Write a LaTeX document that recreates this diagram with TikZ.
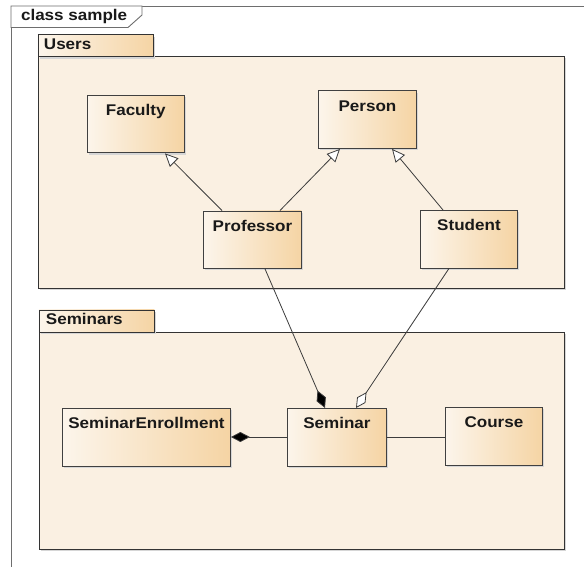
\documentclass[tikz,border=0pt]{standalone}
\usepackage{fontspec}
\setmainfont[FakeStretch=1.1]{Liberation Sans}
\usetikzlibrary{arrows.meta,shadows,calc}
\definecolor{pkgfill}{RGB}{250,240,226}
\definecolor{clsleft}{RGB}{252,245,235}
\definecolor{clsright}{RGB}{245,212,164}
\definecolor{edgecol}{RGB}{60,60,60}
\definecolor{framecol}{RGB}{110,110,110}
\tikzset{
  txt/.style={font=\fontsize{15.5}{18}\selectfont\bfseries, text=black!90},
  shade/.style={drop shadow={shadow xshift=1.6pt, shadow yshift=-1.6pt, fill=black!16, opacity=1}},
  pkgbody/.style={draw=black!80, line width=0.9pt, fill=pkgfill, shade, anchor=north west, inner sep=0pt},
  pkgtab/.style={txt, draw=black!80, line width=0.9pt, left color=clsleft, right color=clsright, shade,
    anchor=north west, inner sep=0pt, text width=#1, align=left, text height=15pt, text depth=7pt},
  cls/.style={txt, draw=black!75, line width=0.9pt, left color=clsleft, right color=clsright, shade,
    anchor=north west, inner sep=0pt, minimum width=#1, minimum height=57.5pt,
    text height=20.5pt, text depth=37pt},
  conn/.style={draw=edgecol, line width=0.8pt},
  gen/.style={conn, -{Triangle[length=13pt, width=12pt, fill=white]}},
  comp/.style={conn, -{Diamond[length=19pt, width=10pt, fill=black]}},
  aggr/.style={conn, -{Diamond[length=19pt, width=10pt, fill=white]}},
}
\begin{document}
\begin{tikzpicture}[x=1pt, y=-1pt]
  \useasboundingbox (0,0) rectangle (584,567);
  \fill[white] (0,0) rectangle (584,567);

  % diagram frame and its name tag
  \draw[framecol, line width=0.9pt] (11,567) -- (11,6) -- (584,6);
  \draw[framecol, line width=0.9pt, fill=white]
    (11,6) -- (142,6) -- (142,15) -- (128,27.5) -- (11,27.5) -- cycle;
  \node[txt, anchor=base west] (frametitle) at (17.5,20.5) {class sample};

  % packages
  \node[pkgbody, minimum width=526.5pt, minimum height=232pt] (users) at (37.5,56) {};
  \node[pkgtab=115.5pt] (userstab) at (37.5,34.5) {\hspace*{6pt}Users};
  \node[pkgbody, minimum width=525.5pt, minimum height=217.5pt] (seminars) at (38.5,331.5) {};
  \node[pkgtab=115.5pt] (seminarstab) at (38.5,309.5) {\hspace*{7pt}Seminars};

  % classes
  \node[cls=97.5pt] (faculty) at (86.5,95) {Faculty};
  \node[cls=98pt] (person) at (318,90.5) {Person};
  \node[cls=98pt] (professor) at (203,210.5) {Professor};
  \node[cls=97pt] (student) at (420,210) {Student};
  \node[cls=168pt] (enroll) at (62,408) {SeminarEnrollment};
  \node[cls=99pt] (seminar) at (287,408) {Seminar};
  \node[cls=97pt] (course) at (445,407) {Course};

  % generalizations
  \draw[gen] ($(professor.north west)+(19,0)$) -- ($(faculty.south west)+(78.5,0)$);
  \draw[gen] ($(professor.north west)+(77,0)$) -- ($(person.south west)+(22,0)$);
  \draw[gen] ($(student.north west)+(23,0)$) -- ($(person.south west)+(74,0)$);

  % associations
  \draw[comp] ($(professor.south west)+(62,0)$) -- ($(seminar.north west)+(38,0)$);
  \draw[aggr] ($(student.south west)+(29,0)$) -- ($(seminar.north west)+(69,0)$);
  \draw[comp] (seminar.west |- 0,437) -- (enroll.east |- 0,437);
  \draw[conn] (seminar.east |- 0,437) -- (course.west |- 0,437);
\end{tikzpicture}
\end{document}
